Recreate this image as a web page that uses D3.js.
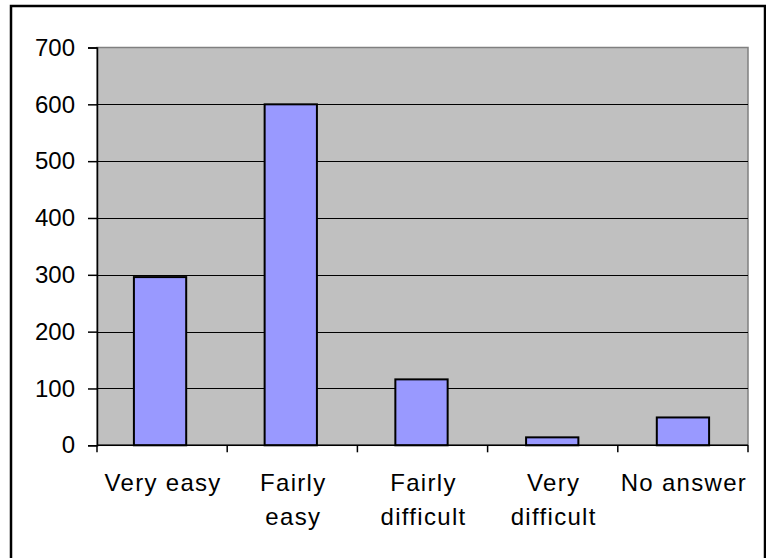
<!DOCTYPE html>
<html>
<head>
<meta charset="utf-8">
<script src="https://cdn.jsdelivr.net/npm/d3@7"></script>
<style>
  body { margin: 0; background: #fff; }
  svg { display: block; font-family: "Liberation Sans", Arial, sans-serif; }
</style>
</head>
<body>
<div id="chart"></div>
<script>
'use strict';
// survey answers
const categories = ["Very easy", "Fairly easy", "Fairly difficult", "Very difficult", "No answer"];
const labelLines = [["Very easy"], ["Fairly", "easy"], ["Fairly", "difficult"], ["Very", "difficult"], ["No answer"]];
const counts = [296, 600, 116, 14, 49];
const yTicks = [0, 100, 200, 300, 400, 500, 600, 700];

const width = 766, height = 558;
const plot = {left: 97, top: 47.5, right: 748, bottom: 445.3};

const svg = d3.select("#chart").append("svg")
  .attr("width", width)
  .attr("height", height);

// outer frame
svg.append("rect")
  .attr("x", 11).attr("y", 6)
  .attr("width", 754).attr("height", 570)
  .attr("fill", "#fff")
  .attr("stroke", "#000")
  .attr("stroke-width", 2.5);

const x = d3.scaleBand()
  .domain(categories)
  .range([plot.left, plot.right])
  .paddingInner(0.6)
  .paddingOuter(0.29);

const band = d3.scaleBand()
  .domain(categories)
  .range([plot.left, plot.right]);

const y = d3.scaleLinear()
  .domain([0, 700])
  .range([plot.bottom, plot.top]);

// plot area
svg.append("rect")
  .attr("x", plot.left).attr("y", plot.top)
  .attr("width", plot.right - plot.left)
  .attr("height", plot.bottom - plot.top)
  .attr("fill", "#c0c0c0")
  .attr("stroke", "#808080")
  .attr("stroke-width", 1.5);

// gridlines
svg.append("g")
  .selectAll("line")
  .data(yTicks.filter(d => d > 0 && d < 700))
  .enter()
  .append("line")
  .attr("x1", plot.left).attr("x2", plot.right)
  .attr("y1", d => Math.round(y(d)) + 0.5)
  .attr("y2", d => Math.round(y(d)) + 0.5)
  .attr("stroke", "#000")
  .attr("stroke-width", 1);

// bars
svg.append("g")
  .selectAll("rect")
  .data(counts)
  .enter()
  .append("rect")
  .attr("x", (d, i) => x(categories[i]) - 1)
  .attr("y", d => y(d))
  .attr("width", x.bandwidth())
  .attr("height", d => plot.bottom - y(d))
  .attr("fill", "#9999ff")
  .attr("stroke", "#000")
  .attr("stroke-width", 2);

// y axis
const yAxis = svg.append("g")
  .attr("transform", `translate(${plot.left},0)`)
  .call(d3.axisLeft(y).tickValues(yTicks).tickSize(9).tickPadding(13));
yAxis.select(".domain").attr("stroke", "#000").attr("stroke-width", 1.5);
yAxis.selectAll(".tick line").attr("stroke", "#000").attr("stroke-width", 1.5);
yAxis.selectAll(".tick text")
  .attr("font-size", 24)
  .attr("font-family", "Liberation Sans, Arial, sans-serif")
  .attr("fill", "#000");

// x axis
const xAxis = svg.append("g")
  .attr("transform", `translate(0,${plot.bottom})`);
xAxis.append("line")
  .attr("x1", plot.left).attr("x2", plot.right)
  .attr("stroke", "#000").attr("stroke-width", 1.5);
xAxis.selectAll(".xtick")
  .data(categories.concat(["end"]))
  .enter()
  .append("line")
  .attr("x1", (d, i) => i < categories.length ? band(d) : plot.right)
  .attr("x2", (d, i) => i < categories.length ? band(d) : plot.right)
  .attr("y1", 0).attr("y2", 7)
  .attr("stroke", "#000").attr("stroke-width", 1.5);

const labels = xAxis.selectAll(".xlabel")
  .data(labelLines)
  .enter()
  .append("text")
  .attr("text-anchor", "middle")
  .attr("font-size", 24)
  .attr("letter-spacing", 1.3)
  .attr("fill", "#000")
  .attr("transform", (d, i) => `translate(${band(categories[i]) + band.bandwidth() / 2 + 1},46)`);

labels.selectAll("tspan")
  .data(d => d)
  .enter()
  .append("tspan")
  .attr("x", 0)
  .attr("y", (d, i) => i * 34)
  .text(d => d);
</script>
</body>
</html>
